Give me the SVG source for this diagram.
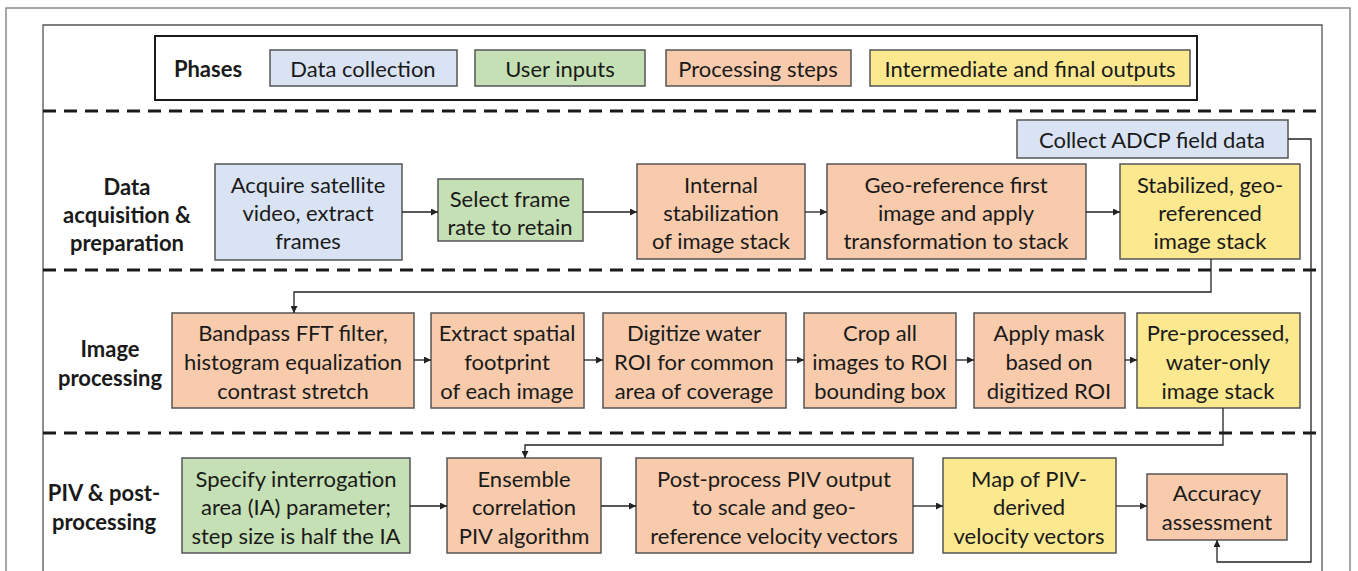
<svg xmlns="http://www.w3.org/2000/svg" width="1358" height="571" viewBox="0 0 1358 571">
  <defs>
    <marker id="arrow" viewBox="0 0 10 10" refX="10" refY="5" markerWidth="7" markerHeight="7" markerUnits="userSpaceOnUse" orient="auto">
      <path d="M0,0 L10,5 L0,10 z" fill="#222"/>
    </marker>
    <style>
      text { font-family: Lato, "Liberation Sans", sans-serif; font-size: 22px; fill: #1a1a1a; text-anchor: middle; dominant-baseline: central; }
      .lbl { font-weight: bold; }
      .box { stroke: #555; stroke-width: 1.5; }
      .blue { fill: #dae3f3; }
      .green { fill: #c5e0b4; }
      .orange { fill: #f8cbad; }
      .yellow { fill: #fbe88f; }
      .dash { stroke: #1a1a1a; stroke-width: 3; stroke-dasharray: 13 8; fill: none; }
      .conn { stroke: #222; stroke-width: 1.3; fill: none; }
      .arr { marker-end: url(#arrow); }
    </style>
  </defs>

  <rect width="1358" height="571" fill="#fff"/>
  <!-- outer and inner frames -->
  <path d="M6,580 V8 H1350 V580" fill="none" stroke="#8a8a8a" stroke-width="1.5"/>
  <path d="M43,580 V25 H1322 V580" fill="none" stroke="#555" stroke-width="1.3"/>

  <!-- legend -->
  <g id="legend">
    <rect x="155" y="36" width="1042" height="64" fill="#fff" stroke="#1a1a1a" stroke-width="2"/>
    <text class="lbl" x="208" y="68">Phases</text>
    <rect class="box blue" x="270" y="50" width="187" height="36"/>
    <text x="363" y="68">Data collection</text>
    <rect class="box green" x="475" y="50" width="170" height="36"/>
    <text x="560" y="68">User inputs</text>
    <rect class="box orange" x="666" y="50" width="185" height="36"/>
    <text x="758" y="68">Processing steps</text>
    <rect class="box yellow" x="870" y="50" width="320" height="36"/>
    <text x="1030" y="68">Intermediate and final outputs</text>
  </g>

  <!-- phase separators -->
  <g id="separators">
    <line class="dash" x1="43" y1="111" x2="1322" y2="111"/>
    <line class="dash" x1="43" y1="270" x2="1322" y2="270"/>
    <line class="dash" x1="43" y1="433" x2="1322" y2="433"/>
  </g>

  <!-- phase labels -->
  <g id="phase-labels">
    <text class="lbl" x="127" y="186">Data</text>
    <text class="lbl" x="127" y="214">acquisition &amp;</text>
    <text class="lbl" x="127" y="242">preparation</text>
    <text class="lbl" x="110" y="348">Image</text>
    <text class="lbl" x="110" y="377">processing</text>
    <text class="lbl" x="104" y="492">PIV &amp; post-</text>
    <text class="lbl" x="104" y="521">processing</text>
  </g>

  <!-- row 1: data acquisition & preparation -->
  <g id="acquire">
    <rect class="box blue" x="215" y="164" width="187" height="96"/>
    <text x="308" y="184">Acquire satellite</text>
    <text x="308" y="212">video, extract</text>
    <text x="308" y="240">frames</text>
  </g>
  <g id="select-frame">
    <rect class="box green" x="438" y="179" width="145" height="62"/>
    <text x="510" y="198">Select frame</text>
    <text x="510" y="226">rate to retain</text>
  </g>
  <g id="stabilize">
    <rect class="box orange" x="637" y="164" width="168" height="95"/>
    <text x="721" y="184">Internal</text>
    <text x="721" y="212">stabilization</text>
    <text x="721" y="240">of image stack</text>
  </g>
  <g id="georef">
    <rect class="box orange" x="827" y="164" width="259" height="95"/>
    <text x="956" y="184">Geo-reference first</text>
    <text x="956" y="212">image and apply</text>
    <text x="956" y="240">transformation to stack</text>
  </g>
  <g id="stabilized-stack">
    <rect class="box yellow" x="1120" y="164" width="180" height="95"/>
    <text x="1210" y="184">Stabilized, geo-</text>
    <text x="1210" y="212">referenced</text>
    <text x="1210" y="240">image stack</text>
  </g>
  <g id="adcp">
    <rect class="box blue" x="1017" y="120" width="271" height="38"/>
    <text x="1152" y="139">Collect ADCP field data</text>
  </g>

  <!-- row 2: image processing -->
  <g id="bandpass">
    <rect class="box orange" x="172" y="313" width="242" height="95"/>
    <text x="293" y="332">Bandpass FFT filter,</text>
    <text x="293" y="361">histogram equalization</text>
    <text x="293" y="390">contrast stretch</text>
  </g>
  <g id="footprint">
    <rect class="box orange" x="431" y="313" width="153" height="95"/>
    <text x="507" y="332">Extract spatial</text>
    <text x="507" y="361">footprint</text>
    <text x="507" y="390">of each image</text>
  </g>
  <g id="digitize">
    <rect class="box orange" x="603" y="313" width="183" height="95"/>
    <text x="694" y="332">Digitize water</text>
    <text x="694" y="361">ROI for common</text>
    <text x="694" y="390">area of coverage</text>
  </g>
  <g id="crop">
    <rect class="box orange" x="804" y="313" width="152" height="95"/>
    <text x="880" y="332">Crop all</text>
    <text x="880" y="361">images to ROI</text>
    <text x="880" y="390">bounding box</text>
  </g>
  <g id="mask">
    <rect class="box orange" x="974" y="313" width="151" height="95"/>
    <text x="1049" y="332">Apply mask</text>
    <text x="1049" y="361">based on</text>
    <text x="1049" y="390">digitized ROI</text>
  </g>
  <g id="preprocessed">
    <rect class="box yellow" x="1137" y="313" width="163" height="95"/>
    <text x="1218" y="332">Pre-processed,</text>
    <text x="1218" y="361">water-only</text>
    <text x="1218" y="390">image stack</text>
  </g>

  <!-- row 3: PIV & post-processing -->
  <g id="ia-param">
    <rect class="box green" x="182" y="458" width="228" height="95"/>
    <text x="296" y="478">Specify interrogation</text>
    <text x="296" y="506">area (IA) parameter;</text>
    <text x="296" y="535">step size is half the IA</text>
  </g>
  <g id="ensemble">
    <rect class="box orange" x="447" y="458" width="154" height="95"/>
    <text x="524" y="478">Ensemble</text>
    <text x="524" y="506">correlation</text>
    <text x="524" y="535">PIV algorithm</text>
  </g>
  <g id="postprocess">
    <rect class="box orange" x="636" y="458" width="277" height="95"/>
    <text x="774" y="478">Post-process PIV output</text>
    <text x="774" y="506">to scale and geo-</text>
    <text x="774" y="535">reference velocity vectors</text>
  </g>
  <g id="piv-map">
    <rect class="box yellow" x="943" y="458" width="173" height="95"/>
    <text x="1029" y="478">Map of PIV-</text>
    <text x="1029" y="506">derived</text>
    <text x="1029" y="535">velocity vectors</text>
  </g>
  <g id="accuracy">
    <rect class="box orange" x="1147" y="474" width="140" height="66"/>
    <text x="1217" y="492">Accuracy</text>
    <text x="1217" y="521">assessment</text>
  </g>

  <!-- connectors -->
  <g id="connectors">
    <line class="conn arr" x1="402" y1="212" x2="438" y2="212"/>
    <line class="conn arr" x1="583" y1="212" x2="637" y2="212"/>
    <line class="conn arr" x1="805" y1="212" x2="827" y2="212"/>
    <line class="conn arr" x1="1086" y1="212" x2="1120" y2="212"/>
    <polyline class="conn arr" points="1211,259 1211,292 294,292 294,313"/>
    <line class="conn arr" x1="414" y1="360" x2="431" y2="360"/>
    <line class="conn arr" x1="584" y1="360" x2="603" y2="360"/>
    <line class="conn arr" x1="786" y1="360" x2="804" y2="360"/>
    <line class="conn arr" x1="956" y1="360" x2="974" y2="360"/>
    <line class="conn arr" x1="1125" y1="360" x2="1137" y2="360"/>
    <polyline class="conn arr" points="1223,408 1223,445 525,445 525,458"/>
    <line class="conn arr" x1="410" y1="506" x2="447" y2="506"/>
    <line class="conn arr" x1="601" y1="506" x2="636" y2="506"/>
    <line class="conn arr" x1="913" y1="506" x2="943" y2="506"/>
    <line class="conn arr" x1="1116" y1="506" x2="1147" y2="506"/>
    <polyline class="conn arr" points="1288,139 1311,139 1311,562 1217,562 1217,540"/>
  </g>
</svg>
